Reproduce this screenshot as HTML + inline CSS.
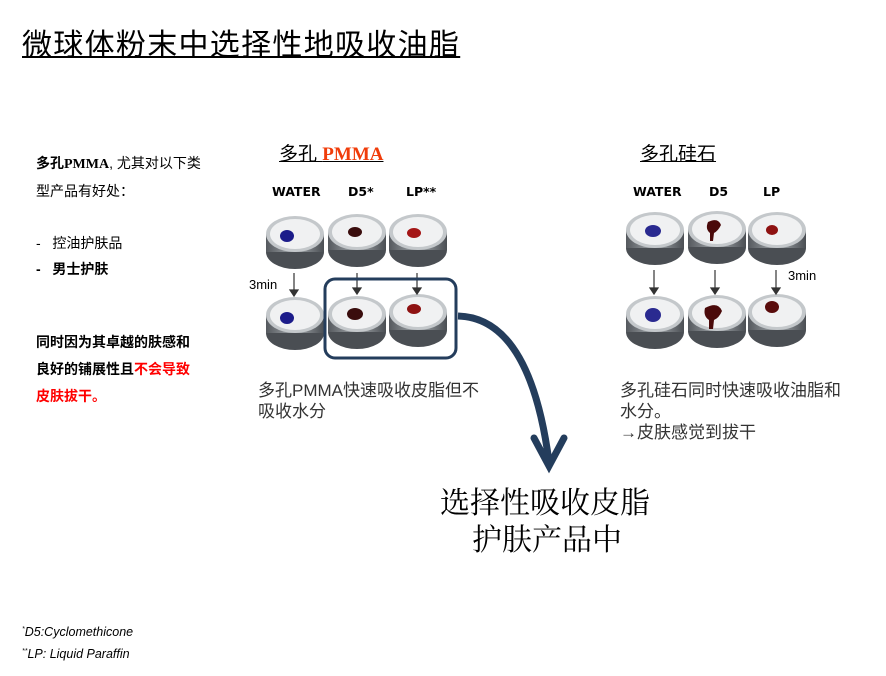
<!DOCTYPE html>
<html><head><meta charset="utf-8"><style>
body{margin:0;width:886px;height:676px;background:#fff;position:relative;overflow:hidden;font-family:"Liberation Sans","Noto Sans CJK SC",sans-serif;color:#000}
.t{position:absolute;white-space:nowrap}
.l{font-family:"DejaVu Sans",sans-serif;font-size:12.5px;font-weight:bold}
</style></head><body>
<div class="t" style="left:22px;top:20px;font-size:30px;letter-spacing:1.3px;text-decoration:underline;text-decoration-thickness:2px">微球体粉末中选择性地吸收油脂</div>
<div class="t" style="left:36px;top:150px;font-size:14px;line-height:26px">
<b style="font-family:'Liberation Serif','Noto Sans CJK SC',serif">多孔PMMA</b>, 尤其对以下类<br>型产品有好处：<br><br>-&nbsp;&nbsp;&nbsp;控油护肤品<br><b>-&nbsp;&nbsp;&nbsp;男士护肤</b></div>
<div class="t" style="left:36px;top:329px;font-size:14px;line-height:27px;font-weight:bold">同时因为其卓越的肤感和<br>良好的铺展性且<span style="color:#f00">不会导致</span><br><span style="color:#f00">皮肤拔干。</span></div>
<div class="t" style="left:279px;top:139px;font-size:19px;text-decoration:underline">多孔 <b style="color:#f03c0a;font-family:'Liberation Serif',serif">PMMA</b></div>
<div class="t" style="left:640px;top:139px;font-size:19px;text-decoration:underline">多孔硅石</div>
<div class="t l" style="left:272px;top:184px">WATER</div>
<div class="t l" style="left:348px;top:184px">D5*</div>
<div class="t l" style="left:406px;top:184px">LP**</div>
<div class="t l" style="left:633px;top:184px">WATER</div>
<div class="t l" style="left:709px;top:184px">D5</div>
<div class="t l" style="left:763px;top:184px">LP</div>
<div class="t" style="left:249px;top:277px;font-size:13px">3min</div>
<div class="t" style="left:788px;top:268px;font-size:13px">3min</div>
<div class="t" style="left:258px;top:380px;font-size:17px;line-height:21px;color:#333">多孔PMMA快速吸收皮脂但不<br>吸收水分</div>
<div class="t" style="left:620px;top:380px;font-size:17px;line-height:21px;color:#333">多孔硅石同时快速吸收油脂和<br>水分。<br>→皮肤感觉到拔干</div>
<div class="t" style="left:440px;top:482px;font-size:30px;line-height:37px;font-family:'Noto Serif CJK SC',serif">选择性吸收皮脂</div>
<div class="t" style="left:472px;top:519px;font-size:30px;line-height:37px;font-family:'Noto Serif CJK SC',serif">护肤产品中</div>
<div class="t" style="left:22px;top:620px;font-size:12.5px;font-style:italic;line-height:19px"><sup style="font-size:7px">*</sup>D5:Cyclomethicone<br><sup style="font-size:7px">**</sup>LP: Liquid Paraffin</div>
<svg width="886" height="676" style="position:absolute;left:0;top:0">
<defs>
<linearGradient id="b" x1="0" x2="1"><stop offset="0" stop-color="#55595e"/><stop offset=".5" stop-color="#a5aaae"/><stop offset="1" stop-color="#4a4e53"/></linearGradient>
<symbol id="d" viewBox="0 0 62 60">
<ellipse cx="31" cy="40" rx="29" ry="17" fill="#4a4e53"/>
<rect x="2" y="22" width="58" height="18" fill="url(#b)"/>
<ellipse cx="31" cy="22" rx="29" ry="18" fill="#c4c8cb"/>
<ellipse cx="31" cy="22" rx="25" ry="15" fill="#f0f1f2"/>
</symbol>
</defs>
<g>
<use href="#d" x="264" y="212" width="62" height="60"/>
<use href="#d" x="326" y="210" width="62" height="60"/>
<use href="#d" x="387" y="210" width="62" height="60"/>
<use href="#d" x="264" y="293" width="62" height="60"/>
<use href="#d" x="326" y="292" width="62" height="60"/>
<use href="#d" x="387" y="290" width="62" height="60"/>
<use href="#d" x="624" y="208" width="62" height="60"/>
<use href="#d" x="686" y="207" width="62" height="60"/>
<use href="#d" x="746" y="208" width="62" height="60"/>
<use href="#d" x="624" y="292" width="62" height="60"/>
<use href="#d" x="686" y="291" width="62" height="60"/>
<use href="#d" x="746" y="290" width="62" height="60"/>
</g>
<g>
<ellipse cx="287" cy="236" rx="7" ry="6" fill="#1c1c8a"/>
<ellipse cx="355" cy="232" rx="7" ry="5" fill="#3a0d0d"/>
<ellipse cx="414" cy="233" rx="7" ry="5" fill="#a41616"/>
<ellipse cx="287" cy="318" rx="7" ry="6" fill="#1c1c8a"/>
<ellipse cx="355" cy="314" rx="8" ry="6" fill="#3a0d0d"/>
<ellipse cx="414" cy="309" rx="7" ry="5" fill="#8e1212"/>
<ellipse cx="653" cy="231" rx="8" ry="6" fill="#2a2a90"/>
<path d="M708 222 q10-5 13 3 q-3 6-7 8 l-1 8 l-3 0 l0-8 q-5-4-2-11z" fill="#4a0a0a"/>
<ellipse cx="772" cy="230" rx="6" ry="5" fill="#8e1212"/>
<ellipse cx="653" cy="315" rx="8" ry="7" fill="#2a2a90"/>
<path d="M705 308 q13-7 17 3 q-3 7-8 9 l-1 9 l-4 0 l0-9 q-6-4-4-12z" fill="#4a0a0a"/>
<ellipse cx="772" cy="307" rx="7" ry="6" fill="#5a0c0c"/>
</g>
<g stroke="#333" stroke-width="1.2" fill="#333">
<line x1="294" y1="273" x2="294" y2="292"/><path d="M290 290 l4 6 l4-6z"/>
<line x1="357" y1="273" x2="357" y2="290"/><path d="M353 288 l4 6 l4-6z"/>
<line x1="417" y1="273" x2="417" y2="290"/><path d="M413 288 l4 6 l4-6z"/>
<line x1="654" y1="270" x2="654" y2="290"/><path d="M650 288 l4 6 l4-6z"/>
<line x1="715" y1="270" x2="715" y2="290"/><path d="M711 288 l4 6 l4-6z"/>
<line x1="776" y1="270" x2="776" y2="290"/><path d="M772 288 l4 6 l4-6z"/>
</g>
<rect x="325" y="279" width="131" height="79" rx="10" fill="none" stroke="#243d5c" stroke-width="3"/>
<path d="M458 316 Q530 318 549 462" fill="none" stroke="#243d5c" stroke-width="7"/>
<path d="M534 438 L549 466 L564 438" fill="none" stroke="#243d5c" stroke-width="7" stroke-linecap="round"/>
</svg>
</body></html>
